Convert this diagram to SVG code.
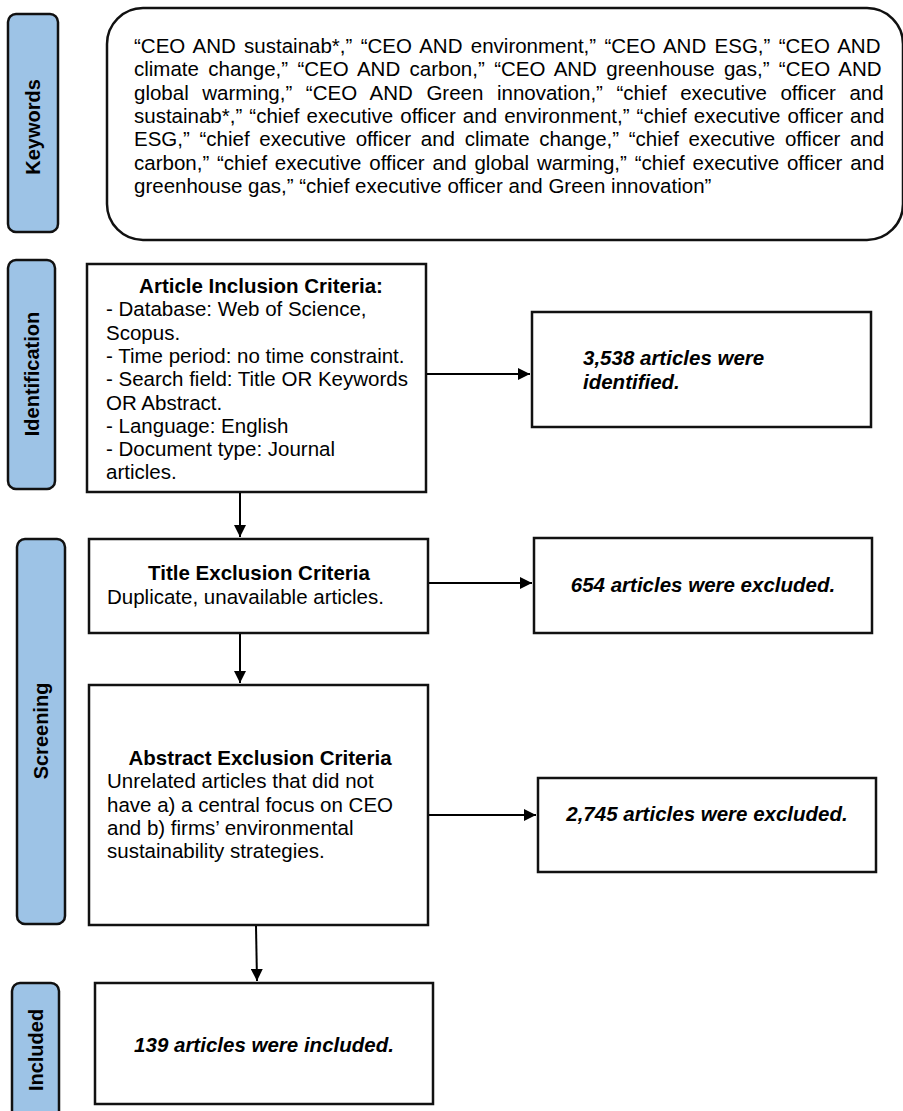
<svg xmlns="http://www.w3.org/2000/svg" width="903" height="1111" viewBox="0 0 903 1111">
<style>
  .bar{fill:#9dc3e6;stroke:#111;stroke-width:2.5}
  .box{fill:#fff;stroke:#111;stroke-width:2.5}
  .t{font-family:"Liberation Sans",Arial,sans-serif;font-size:20.5px;fill:#000}
  .b{font-weight:bold}
  .bi{font-weight:bold;font-style:italic}
  .side{font-family:"Liberation Sans",Arial,sans-serif;font-size:20px;font-weight:bold;fill:#000;text-anchor:middle;dominant-baseline:central}
  .c{stroke:#000;stroke-width:2;fill:none}
</style>
<defs>
  <marker id="ah" markerUnits="userSpaceOnUse" markerWidth="13" markerHeight="12" refX="12" refY="6" orient="auto">
    <path d="M0,0 L12,6 L0,12 z" fill="#000"/>
  </marker>
</defs>
<rect width="903" height="1111" fill="#fff"/>

<g id="bar-keywords">
  <rect class="bar" x="8" y="14" width="50" height="218" rx="8"/>
  <text class="side" transform="translate(33,127) rotate(-90)">Keywords</text>
</g>
<g id="bar-identification">
  <rect class="bar" x="8" y="260" width="47" height="229" rx="8"/>
  <text class="side" transform="translate(31.5,374) rotate(-90)">Identification</text>
</g>
<g id="bar-screening">
  <rect class="bar" x="17" y="539" width="48" height="385" rx="8"/>
  <text class="side" transform="translate(41,731) rotate(-90)">Screening</text>
</g>
<g id="bar-included">
  <rect class="bar" x="12" y="983" width="47" height="150" rx="8"/>
  <text class="side" transform="translate(35.5,1050) rotate(-90)">Included</text>
</g>

<g id="keywords">
  <rect class="box" x="107" y="8" width="796" height="232" rx="36" stroke-width="2"/>
  <text class="t" x="134" y="53" style="word-spacing:2.65px">“CEO AND sustainab*,” “CEO AND environment,” “CEO AND ESG,” “CEO AND</text>
  <text class="t" x="134" y="76.3" style="word-spacing:3.67px">climate change,” “CEO AND carbon,” “CEO AND greenhouse gas,” “CEO AND</text>
  <text class="t" x="134" y="99.6" style="word-spacing:7.88px">global warming,” “CEO AND Green innovation,” “chief executive officer and</text>
  <text class="t" x="134" y="122.9" style="word-spacing:1.41px">sustainab*,” “chief executive officer and environment,” “chief executive officer and</text>
  <text class="t" x="134" y="146.2" style="word-spacing:4px">ESG,” “chief executive officer and climate change,” “chief executive officer and</text>
  <text class="t" x="134" y="169.5" style="word-spacing:2.07px">carbon,” “chief executive officer and global warming,” “chief executive officer and</text>
  <text class="t" x="134" y="192.8">greenhouse gas,” “chief executive officer and Green innovation”</text>
</g>

<g id="inclusion">
  <rect class="box" x="87" y="264" width="339" height="228"/>
  <text class="t b" x="261" y="293" text-anchor="middle">Article Inclusion Criteria:</text>
  <text class="t" x="106" y="316.3">- Database: Web of Science,</text>
  <text class="t" x="106" y="339.6">Scopus.</text>
  <text class="t" x="106" y="362.9">- Time period: no time constraint.</text>
  <text class="t" x="106" y="386.2">- Search field: Title OR Keywords</text>
  <text class="t" x="106" y="409.5">OR Abstract.</text>
  <text class="t" x="106" y="432.8">- Language: English</text>
  <text class="t" x="106" y="456.1">- Document type: Journal</text>
  <text class="t" x="106" y="479.4">articles.</text>
</g>

<g id="identified">
  <rect class="box" x="532" y="312" width="339" height="115"/>
  <text class="t bi" x="583" y="365">3,538 articles were</text>
  <text class="t bi" x="583" y="389">identified.</text>
</g>

<g id="title-exclusion">
  <rect class="box" x="89" y="539" width="339" height="94"/>
  <text class="t b" x="259" y="580" text-anchor="middle">Title Exclusion Criteria</text>
  <text class="t" x="107" y="604">Duplicate, unavailable articles.</text>
</g>

<g id="excluded-654">
  <rect class="box" x="534" y="538" width="338" height="95"/>
  <text class="t bi" x="703" y="592" text-anchor="middle">654 articles were excluded.</text>
</g>

<g id="abstract-exclusion">
  <rect class="box" x="89" y="685" width="339" height="240"/>
  <text class="t b" x="260" y="765" text-anchor="middle">Abstract Exclusion Criteria</text>
  <text class="t" x="107" y="788.3">Unrelated articles that did not</text>
  <text class="t" x="107" y="811.6">have a) a central focus on CEO</text>
  <text class="t" x="107" y="834.9">and b) firms’ environmental</text>
  <text class="t" x="107" y="858.2">sustainability strategies.</text>
</g>

<g id="excluded-2745">
  <rect class="box" x="538" y="778" width="338" height="94"/>
  <text class="t bi" x="707" y="821" text-anchor="middle">2,745 articles were excluded.</text>
</g>

<g id="included">
  <rect class="box" x="95" y="983" width="338" height="121"/>
  <text class="t bi" x="264" y="1052" text-anchor="middle">139 articles were included.</text>
</g>

<g id="connectors">
  <line class="c" x1="427" y1="374" x2="530" y2="374" marker-end="url(#ah)"/>
  <line class="c" x1="240" y1="493" x2="240" y2="537" marker-end="url(#ah)"/>
  <line class="c" x1="429" y1="583" x2="532" y2="583" marker-end="url(#ah)"/>
  <line class="c" x1="240" y1="634" x2="240" y2="683" marker-end="url(#ah)"/>
  <line class="c" x1="429" y1="815" x2="536" y2="815" marker-end="url(#ah)"/>
  <line class="c" x1="256" y1="926" x2="257" y2="981" stroke-width="1.2" marker-end="url(#ah)"/>
</g>
</svg>
